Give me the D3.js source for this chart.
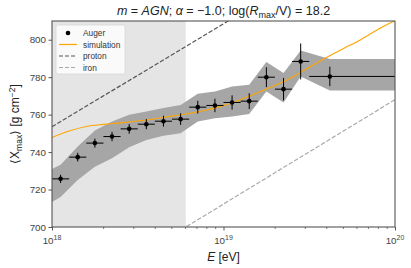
<!DOCTYPE html>
<html>
<head>
<meta charset="utf-8">
<script src="https://cdn.jsdelivr.net/npm/d3@7"></script>
<style>
  body { margin: 0; background: #fff; }
  text { font-family: "Liberation Sans", Arial, sans-serif; }
</style>
</head>
<body>
<div id="chart"></div>
<script>
// Auger data (log10 E bin centres, bin edges, <Xmax>, stat error, systematic band)
var augerLgE = [17.95, 18.05, 18.15, 18.25, 18.35, 18.45, 18.55, 18.65, 18.75, 18.85, 18.95, 19.05, 19.15, 19.25, 19.35, 19.45, 19.62];
var augerBinEdges = [17.9, 18.0, 18.1, 18.2, 18.3, 18.4, 18.5, 18.6, 18.7, 18.8, 18.9, 19.0, 19.1, 19.2, 19.3, 19.4, 19.5, 20.0];
var augerXmax = [720.5, 725.7, 737.3, 744.8, 748.3, 752.4, 754.9, 756.5, 757.6, 764.0, 764.9, 766.5, 767.2, 780.0, 773.6, 788.4, 780.4];
var augerStat = [2.0, 2.2, 2.3, 2.4, 2.5, 2.6, 2.7, 2.9, 3.1, 3.4, 3.6, 3.8, 4.2, 5.3, 6.0, 9.6, 5.2];
var sysTop = [728.8, 733.2, 743.0, 751.5, 756.3, 759.9, 761.7, 763.5, 765.2, 771.1, 772.4, 775.0, 775.9, 788.1, 782.2, 794.3, 789.7];
var sysBottom = [710.8, 716.0, 725.1, 732.2, 736.7, 742.6, 746.5, 748.7, 750.1, 756.3, 758.1, 759.0, 760.3, 772.4, 766.5, 780.4, 772.9];

// simulation curve
var simLgE = [18.0, 18.1, 18.2, 18.3, 18.4, 18.5, 18.6, 18.7, 18.8, 18.9, 19.0, 19.1, 19.2, 19.3, 19.4, 19.5, 19.6, 19.7, 19.8, 19.9, 20.0];
var simXmax = [747.8, 751.3, 753.7, 754.8, 755.6, 756.6, 757.8, 759.2, 760.6, 762.5, 764.8, 768.0, 771.8, 775.5, 780.0, 785.3, 790.5, 795.3, 800.0, 805.5, 810.2];

// pure proton / iron reference lines
var refLgE = [18.0, 20.0];
var protonXmax = [753.5, 863.5];
var ironXmax = [656.5, 768.0];

// shaded region (energies not used in the fit)
var shadeLgE = [18.0, 18.78];

var yTicks = [700, 720, 740, 760, 780, 800];
var xTicks = [18, 19, 20];

var svgWidth = 411;
var svgHeight = 268;
var margin = { top: 21, right: 16, bottom: 41, left: 52 };
var width = svgWidth - margin.left - margin.right;
var height = svgHeight - margin.top - margin.bottom;

var svg = d3.select("#chart").append("svg")
   .attr("width", svgWidth)
   .attr("height", svgHeight);

var chartGroup = svg.append("g")
   .attr("transform", `translate(${margin.left}, ${margin.top})`);

var xScale = d3.scaleLog().domain([1e18, 1e20]).range([0, width]);
var yScale = d3.scaleLinear().domain([700, 810]).range([height, 0]);
var xE = lg => xScale(Math.pow(10, lg));

svg.append("defs").append("clipPath").attr("id", "clip")
   .append("rect").attr("width", width).attr("height", height);

var plot = chartGroup.append("g").attr("clip-path", "url(#clip)");

// grey region
plot.append("rect")
   .attr("x", xE(shadeLgE[0]))
   .attr("width", xE(shadeLgE[1]) - xE(shadeLgE[0]))
   .attr("y", 0)
   .attr("height", height)
   .attr("fill", "#e5e5e5");

// systematic band, extended flat to the edge of the last bin
var bandData = augerLgE.map((e, i) => ({ e: e, top: sysTop[i], bottom: sysBottom[i] }));
var last = bandData[bandData.length - 1];
bandData.push({ e: augerBinEdges[augerBinEdges.length - 1], top: last.top, bottom: last.bottom });

plot.append("path")
   .datum(bandData)
   .attr("fill", "#a6a6a6")
   .attr("d", d3.area()
      .x(d => xE(d.e))
      .y0(d => yScale(d.bottom))
      .y1(d => yScale(d.top)));

// proton / iron
var refLine = d3.line().x(d => xE(d[0])).y(d => yScale(d[1]));
plot.append("path")
   .datum(refLgE.map((e, i) => [e, protonXmax[i]]))
   .attr("fill", "none")
   .attr("stroke", "#555")
   .attr("stroke-width", 1.2)
   .attr("stroke-dasharray", "4.4,1.9")
   .attr("d", refLine);
plot.append("path")
   .datum(refLgE.map((e, i) => [e, ironXmax[i]]))
   .attr("fill", "none")
   .attr("stroke", "#aaa")
   .attr("stroke-width", 1.2)
   .attr("stroke-dasharray", "4.4,1.9")
   .attr("d", refLine);

// simulation
plot.append("path")
   .datum(simLgE.map((e, i) => [e, simXmax[i]]))
   .attr("fill", "none")
   .attr("stroke", "#ffa500")
   .attr("stroke-width", 1.1)
   .attr("d", d3.line().curve(d3.curveMonotoneX).x(d => xE(d[0])).y(d => yScale(d[1])));

// Auger points with error bars
var pts = plot.selectAll(".pt")
   .data(augerLgE.map((e, i) => ({ e: e, lo: augerBinEdges[i], hi: augerBinEdges[i + 1], v: augerXmax[i], s: augerStat[i] })))
   .enter().append("g").attr("class", "pt");

pts.append("line")
   .attr("x1", d => xE(d.lo)).attr("x2", d => xE(d.hi))
   .attr("y1", d => yScale(d.v)).attr("y2", d => yScale(d.v))
   .attr("stroke", "#000").attr("stroke-width", 1);
pts.append("line")
   .attr("x1", d => xE(d.e)).attr("x2", d => xE(d.e))
   .attr("y1", d => yScale(d.v - d.s)).attr("y2", d => yScale(d.v + d.s))
   .attr("stroke", "#000").attr("stroke-width", 1);
pts.append("circle")
   .attr("cx", d => xE(d.e))
   .attr("cy", d => yScale(d.v))
   .attr("r", 2.3)
   .attr("fill", "#000");

// frame
chartGroup.append("rect")
   .attr("width", width).attr("height", height)
   .attr("fill", "none")
   .attr("stroke", "#555")
   .attr("stroke-width", 1.1);

// y axis
var leftAxis = d3.axisLeft(yScale).tickValues(yTicks).tickSize(3.5).tickPadding(2.5);
var yAxis = chartGroup.append("g").call(leftAxis);
yAxis.select(".domain").remove();
yAxis.selectAll("line").attr("stroke", "#555");
yAxis.selectAll("text").attr("fill", "#444").style("font-size", "9.8px").attr("font-family", null);

// x axis with minor ticks
var minor = [];
for (var dec = 18; dec < 20; dec++) {
   for (var m = 2; m <= 9; m++) minor.push(m * Math.pow(10, dec));
}
var bottomAxis = d3.axisBottom(xScale).tickValues(xTicks.map(t => Math.pow(10, t))).tickSize(3.5).tickPadding(2).tickFormat("");
var xAxis = chartGroup.append("g")
   .attr("transform", `translate(0, ${height})`)
   .call(bottomAxis);
xAxis.select(".domain").remove();
xAxis.selectAll("line").attr("stroke", "#555");
xAxis.selectAll(".tick text").remove();
xAxis.selectAll(".minor").data(minor).enter().append("line")
   .attr("class", "minor")
   .attr("x1", d => xScale(d)).attr("x2", d => xScale(d))
   .attr("y1", 0).attr("y2", 2)
   .attr("stroke", "#555").attr("stroke-width", 0.8);

xTicks.forEach(function (t) {
   var lab = xAxis.append("text")
      .attr("x", xE(t))
      .attr("y", 16.5)
      .attr("text-anchor", "middle")
      .attr("fill", "#444")
      .style("font-size", "9.8px");
   lab.append("tspan").text("10");
   lab.append("tspan").attr("dy", -4).style("font-size", "7px").text(t);
});

// axis labels
svg.append("text")
   .attr("x", margin.left + width / 2)
   .attr("y", 261)
   .attr("text-anchor", "middle")
   .attr("fill", "#222")
   .style("font-size", "12px")
   .call(function (t) {
      t.append("tspan").style("font-style", "italic").text("E");
      t.append("tspan").text(" [eV]");
   });

svg.append("text")
   .attr("transform", `translate(19, ${margin.top + height / 2}) rotate(-90)`)
   .attr("text-anchor", "middle")
   .attr("fill", "#222")
   .style("font-size", "12px")
   .call(function (t) {
      t.append("tspan").text("\u27E8X");
      t.append("tspan").attr("dy", 2.5).style("font-size", "8.5px").text("max");
      t.append("tspan").attr("dy", -2.5).text("\u27E9 [g cm");
      t.append("tspan").attr("dy", -4.5).style("font-size", "8.5px").text("\u22122");
      t.append("tspan").attr("dy", 4.5).text("]");
   });

// title
svg.append("text")
   .attr("x", margin.left + width / 2)
   .attr("y", 15)
   .attr("text-anchor", "middle")
   .attr("fill", "#222")
   .style("font-size", "12.5px")
   .call(function (t) {
      t.append("tspan").style("font-style", "italic").text("m");
      t.append("tspan").text(" = ");
      t.append("tspan").style("font-style", "italic").text("AGN");
      t.append("tspan").text("; ");
      t.append("tspan").style("font-style", "italic").text("\u03B1");
      t.append("tspan").text(" = \u22121.0; log(");
      t.append("tspan").style("font-style", "italic").text("R");
      t.append("tspan").attr("dy", 2.5).style("font-size", "9px").text("max");
      t.append("tspan").attr("dy", -2.5).text("/V) = 18.2");
   });

// legend
var legend = chartGroup.append("g").attr("transform", "translate(4, 4)");
legend.append("rect")
   .attr("width", 69).attr("height", 49)
   .attr("rx", 2)
   .attr("fill", "#fff").attr("fill-opacity", 0.8)
   .attr("stroke", "#d8d8d8").attr("stroke-width", 0.8);

var legendItems = ["Auger", "simulation", "proton", "iron"];
legendItems.forEach(function (name, i) {
   var y = 8 + i * 11.5;
   if (i === 0) {
      legend.append("circle").attr("cx", 12).attr("cy", y).attr("r", 2.3).attr("fill", "#000");
   } else {
      legend.append("line")
         .attr("x1", 3).attr("x2", 21).attr("y1", y).attr("y2", y)
         .attr("stroke", i === 1 ? "#ffa500" : (i === 2 ? "#555" : "#aaa"))
         .attr("stroke-width", 1.2)
         .attr("stroke-dasharray", i === 1 ? null : "4,2");
   }
   legend.append("text")
      .attr("x", 27).attr("y", y + 3)
      .attr("fill", "#333")
      .style("font-size", "8.3px")
      .text(name);
});
</script>
</body>
</html>
